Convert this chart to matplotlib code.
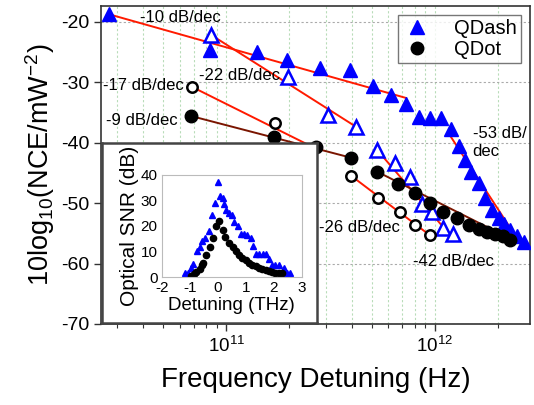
import numpy as np
import matplotlib
matplotlib.use("Agg")
import matplotlib.pyplot as plt
from matplotlib.ticker import LogLocator, NullFormatter, MultipleLocator

plt.rcParams['font.family'] = ['Liberation Sans', 'DejaVu Sans']
plt.rcParams['mathtext.fontset'] = 'custom'
plt.rcParams['mathtext.rm'] = 'Liberation Sans'
plt.rcParams['mathtext.it'] = 'Liberation Sans'
plt.rcParams['mathtext.default'] = 'regular'
plt.rcParams['axes.unicode_minus'] = False

# ---- main data (log10 of frequency in Hz, dB) ----
qdash_logf = [10.438, 10.924, 11.148, 11.290, 11.448, 11.595, 11.705, 11.790, 11.862,
              11.924, 11.976, 12.029, 12.076, 12.114, 12.143, 12.176, 12.214, 12.243,
              12.276, 12.310, 12.333, 12.362, 12.395, 12.429]
qdash_db = [-18.7, -24.6, -25.0, -26.3, -27.6, -27.9, -30.6, -32.1, -33.6,
            -35.7, -35.9, -35.9, -37.7, -40.5, -42.8, -44.8, -46.7, -49.1,
            -51.1, -52.5, -53.4, -54.4, -55.4, -56.4]

qdash_open_logf = [10.929, 11.295, 11.490, 11.624, 11.724, 11.810, 11.881, 11.938, 11.986, 12.038, 12.086]
qdash_open_db = [-22.2, -29.1, -35.4, -37.4, -41.2, -43.3, -45.7, -50.1, -51.5, -54.1, -55.1]

qdot_logf = [10.833, 11.229, 11.433, 11.600, 11.724, 11.824, 11.905, 11.976, 12.038,
             12.105, 12.162, 12.210, 12.252, 12.290, 12.329, 12.362]
qdot_db = [-35.6, -39.0, -40.7, -42.5, -44.8, -46.8, -48.3, -50.0, -51.5,
           -52.5, -53.6, -54.3, -54.8, -55.1, -55.4, -56.1]

qdot_open_logf = [10.838, 11.233, 11.600, 11.729, 11.833, 11.905, 11.976]
qdot_open_db = [-30.8, -36.7, -45.5, -49.1, -51.5, -53.6, -55.3]

# fit lines: (logf start, logf end), (dB start, dB end)
red_fits_logf = [(10.443, 11.862), (10.929, 11.624), (12.071, 12.424),
                 (11.724, 12.081), (10.838, 11.443), (11.600, 11.976)]
red_fits_db = [(-18.8, -32.6), (-22.2, -37.4), (-38.7, -57.4),
               (-41.2, -55.6), (-30.8, -41.2), (-45.5, -55.3)]
dark_fits_logf = [(10.833, 11.600), (11.724, 12.357)]
dark_fits_db = [(-35.6, -42.5), (-44.8, -55.8)]

slope_labels = ['-10 dB/dec', '-22 dB/dec', '-17 dB/dec', '-9 dB/dec',
                '-53 dB/\ndec', '-26 dB/dec', '-42 dB/dec']
label_logf = [10.586, 10.871, 10.410, 10.424, 12.181, 11.443, 11.895]
label_db = [-19.3, -28.9, -30.6, -36.4, -40.0, -54.1, -59.7]

# ---- inset data (THz, dB) ----
ins_dash_x = [-1.18, -1.06, -0.94, -0.88, -0.74, -0.65, -0.55, -0.44, -0.32, -0.20, -0.11,
              0.01, 0.08, 0.18, 0.24, 0.29, 0.41, 0.51, 0.59, 0.74, 0.82, 0.94, 1.06,
              1.18, 1.26, 1.38, 1.49, 1.61, 1.73, 1.82, 1.94, 2.06, 2.18, 2.35, 2.47, 2.59]
ins_dash_y = [1.6, 1.6, 3.6, 5.2, 10.1, 11.7, 14.0, 15.3, 18.2, 24.2, 29.1,
              37.4, 31.6, 30.9, 28.7, 26.4, 25.1, 24.2, 21.4, 19.9, 16.9, 16.9, 16.6,
              15.3, 12.1, 9.2, 9.2, 9.2, 9.2, 6.9, 4.9, 4.7, 4.7, 3.6, 1.7, 1.7]
ins_dot_x = [-0.94, -0.86, -0.76, -0.65, -0.55, -0.51, -0.41, -0.29, -0.18, -0.08, 0.04,
             0.18, 0.27, 0.41, 0.53, 0.65, 0.76, 0.88, 1.00, 1.12, 1.24, 1.35, 1.47,
             1.59, 1.71, 1.82, 1.94, 2.06, 2.18, 2.29]
ins_dot_y = [0.4, 1.3, 1.9, 3.0, 4.9, 5.6, 8.8, 11.7, 15.3, 19.9, 22.1,
             18.6, 15.6, 13.4, 11.7, 10.1, 8.8, 7.5, 6.5, 5.6, 4.7, 4.2, 3.6,
             3.2, 2.6, 2.3, 2.1, 1.7, 1.6, 1.4]

BLUE = '#0000ff'
RED = '#ff1a00'
DARK = '#7a1500'

fig = plt.figure(figsize=(5.34, 4.05), dpi=100)
ax = fig.add_axes([0.189, 0.200, 0.804, 0.785])

p = lambda v: 10 ** np.asarray(v)

ax.set_xscale('log')
ax.set_xlim(2.51e10, 2.87e12)
ax.set_ylim(-70, -17.4)

for lf, db in zip(red_fits_logf, red_fits_db):
    ax.plot(p(lf), db, color=RED, lw=1.4, zorder=3)
for lf, db in zip(dark_fits_logf, dark_fits_db):
    ax.plot(p(lf), db, color=DARK, lw=1.4, zorder=3)

ax.plot(p(qdash_logf), qdash_db, ls='none', marker='^', ms=10.5, mfc=BLUE, mec=BLUE,
        zorder=4, label='QDash')
ax.plot(p(qdash_open_logf), qdash_open_db, ls='none', marker='^', ms=9.5, mfc='white',
        mec=BLUE, mew=1.8, zorder=4)
ax.plot(p(qdot_logf), qdot_db, ls='none', marker='o', ms=9, mfc='black', mec='black',
        zorder=4, label='QDot')
ax.plot(p(qdot_open_logf), qdot_open_db, ls='none', marker='o', ms=7.5, mfc='white',
        mec='black', mew=1.8, zorder=4)

for t, lf, db in zip(slope_labels, label_logf, label_db):
    ax.text(p(lf), db, t, fontsize=12, ha='left', va='center', zorder=5,
            linespacing=1.25)

ax.yaxis.set_major_locator(MultipleLocator(10))
ax.xaxis.set_major_locator(LogLocator(base=10, numticks=10))
ax.xaxis.set_minor_locator(LogLocator(base=10, subs=np.arange(2, 10), numticks=20))
ax.xaxis.set_minor_formatter(NullFormatter())
ax.tick_params(axis='y', which='major', labelsize=14)
ax.tick_params(axis='x', which='major', labelsize=13.5)
ax.tick_params(axis='both', which='major', direction='out', length=5,
               width=1, colors='#333333', labelcolor='black')
ax.tick_params(axis='x', which='minor', direction='out', length=3, width=0.8, colors='#333333')
ax.grid(True, axis='y', which='major', color='#aaaaaa', ls=(0, (2, 2)), lw=0.8)
ax.grid(True, axis='x', which='both', color='#b8dcb8', ls=(0, (2, 2)), lw=0.8)
for s in ax.spines.values():
    s.set_color('#333333')
    s.set_linewidth(1.2)

ax.set_xlabel('Frequency Detuning (Hz)', fontsize=20, labelpad=8)
ax.set_ylabel(r'10log$_{10}$(NCE/mW$^{-2}$)', fontsize=19.5, labelpad=3)

leg = ax.legend(loc='upper right', bbox_to_anchor=(0.979, 0.972), fontsize=14.5,
                frameon=True, fancybox=False, edgecolor='#555555', handletextpad=1.1,
                borderpad=0.2, labelspacing=0.1, handlelength=1.5, borderaxespad=0)
leg.get_frame().set_linewidth(1.0)
leg.set_zorder(6)

# inset frame
box = fig.add_axes([0.191, 0.2025, 0.403, 0.444])
box.set_xticks([]); box.set_yticks([])
box.set_facecolor('white')
for s in box.spines.values():
    s.set_color('#444444')
    s.set_linewidth(1.8)
box.set_zorder(7)

ins = fig.add_axes([0.303, 0.316, 0.262, 0.252])
ins.set_zorder(8)
ins.plot(ins_dash_x, ins_dash_y, ls='none', marker='^', ms=5, mfc=BLUE, mec=BLUE)
ins.plot(ins_dot_x, ins_dot_y, ls='none', marker='o', ms=4.5, mfc='black', mec='black')
ins.set_xlim(-2, 3)
ins.set_ylim(0, 40)
ins.xaxis.set_major_locator(MultipleLocator(1))
ins.yaxis.set_major_locator(MultipleLocator(10))
ins.tick_params(labelsize=11, length=0, pad=3)
for s in ins.spines.values():
    s.set_color('#bbbbbb')
    s.set_linewidth(0.8)
ins.set_xlabel('Detuning (THz)', fontsize=13.5, labelpad=1)
ins.set_ylabel('Optical SNR (dB)', fontsize=15, labelpad=1)
ins.yaxis.label.set_clip_path(box.patch)

fig.savefig('out.png', dpi=100)
